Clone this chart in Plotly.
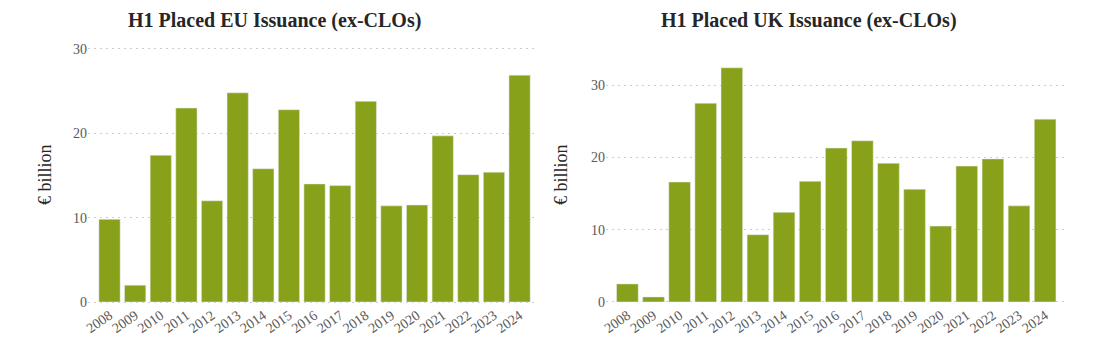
import plotly.graph_objects as go

years = [str(y) for y in range(2008, 2025)]
eu_values = [9.8, 2.0, 17.4, 23.0, 12.0, 24.8, 15.8, 22.8, 14.0, 13.8, 23.8, 11.4, 11.5, 19.7, 15.1, 15.4, 26.9]
uk_values = [2.5, 0.7, 16.6, 27.5, 32.4, 9.3, 12.4, 16.7, 21.3, 22.3, 19.2, 15.6, 10.5, 18.8, 19.8, 13.3, 25.3]
titles = ["H1 Placed EU Issuance (ex-CLOs)", "H1 Placed UK Issuance (ex-CLOs)"]
y_title = "€ billion"

W, H = 1096, 354
bar_color = "#87A21A"
serif = "Liberation Serif, DejaVu Serif, serif"
tick_color = "#595959"

fig = go.Figure()
fig.add_trace(go.Bar(x=years, y=eu_values, marker_color=bar_color, xaxis="x", yaxis="y"))
fig.add_trace(go.Bar(x=years, y=uk_values, marker_color=bar_color, xaxis="x2", yaxis="y2"))

ydom = [(H - 303.7) / H, (H - 47.3) / H]
common_x = dict(showgrid=False, zeroline=False, showline=False, tickangle=-35, automargin=False,
                tickfont=dict(family=serif, size=14, color=tick_color), ticks="")
common_y = dict(showgrid=True, gridcolor="#CCCCCC", griddash="2px,4px", gridwidth=1.2,
                zeroline=False, showline=False, dtick=10, automargin=False,
                tickfont=dict(family=serif, size=14, color=tick_color), ticks="")

fig.update_layout(
    width=W, height=H,
    margin=dict(l=0, r=0, t=0, b=0, autoexpand=False),
    paper_bgcolor="white", plot_bgcolor="white",
    showlegend=False, bargap=0.17,
    xaxis=dict(domain=[88 / W, 536 / W], range=[-0.84, 16.64], anchor="y", **common_x),
    yaxis=dict(domain=ydom, range=[-0.2, 30.2], anchor="x", **common_y),
    xaxis2=dict(domain=[606 / W, 1066 / W], range=[-0.82, 16.8], anchor="y2", **common_x),
    yaxis2=dict(domain=ydom, range=[-0.24, 35.24], anchor="x2", **common_y),
)

annotations = [
    dict(text="<b>" + titles[0] + "</b>", x=274 / W, y=1 - 21 / H, xref="paper", yref="paper",
         showarrow=False, font=dict(family=serif, size=20, color="#262626"), xanchor="center", yanchor="middle"),
    dict(text="<b>" + titles[1] + "</b>", x=809 / W, y=1 - 21 / H, xref="paper", yref="paper",
         showarrow=False, font=dict(family=serif, size=20, color="#262626"), xanchor="center", yanchor="middle"),
    dict(text=y_title, x=45 / W, y=1 - 175 / H, xref="paper", yref="paper", textangle=-90,
         showarrow=False, font=dict(family=serif, size=18, color="#262626"), xanchor="center", yanchor="middle"),
    dict(text=y_title, x=561 / W, y=1 - 175 / H, xref="paper", yref="paper", textangle=-90,
         showarrow=False, font=dict(family=serif, size=18, color="#262626"), xanchor="center", yanchor="middle"),
]
fig.update_layout(annotations=annotations)

fig.write_html("out.html")
